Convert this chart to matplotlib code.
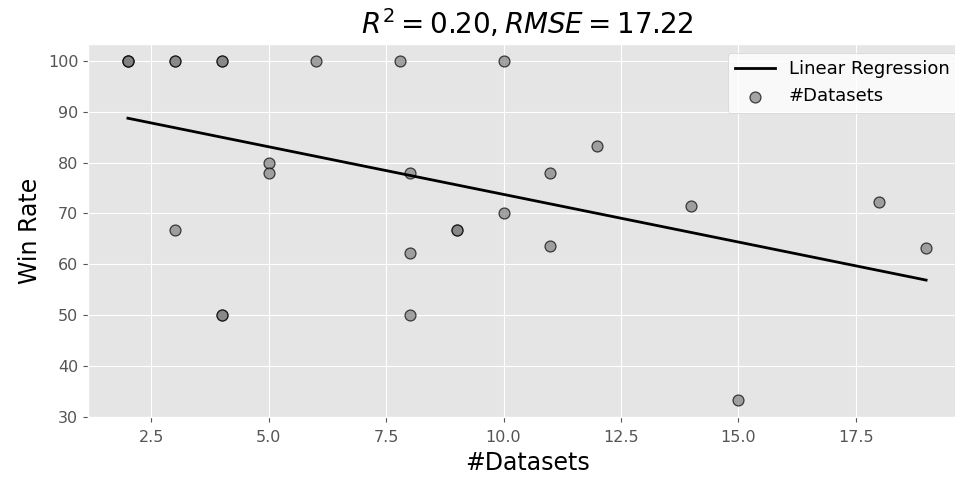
import numpy as np
import matplotlib
matplotlib.use("Agg")
import matplotlib.pyplot as plt

plt.style.use("ggplot")

n_datasets = [2, 2, 2, 3, 3, 4, 4, 6, 7.8, 10, 3, 4, 4, 5, 5, 8, 8, 8, 9, 9, 10, 11, 11, 12, 14, 15, 18, 19]
win_rate = [100, 100, 100, 100, 100, 100, 100, 100, 100, 100, 66.7, 50, 50, 80, 78, 78, 62.3, 50,
            66.7, 66.7, 70, 78, 63.6, 83.3, 71.4, 33.3, 72.2, 63.2]
title_text = r"$R^2 = 0.20, RMSE = 17.22$"

x = np.array(n_datasets, dtype=float)
y = np.array(win_rate, dtype=float)
slope, intercept = np.polyfit(x, y, 1)
xs = np.array([x.min(), x.max()])

fig = plt.figure(figsize=(9.55, 4.79), dpi=100)
ax = fig.add_axes([88 / 955, 1 - 417 / 479, (966 - 88) / 955, (417 - 44) / 479])
ax.plot(xs, slope * xs + intercept, color="black", lw=2, label="Linear Regression", zorder=3)
ax.scatter(x, y, s=62, color="gray", alpha=0.7, edgecolors="black", linewidths=0.9,
           label="#Datasets", zorder=2)
ax.set_title(title_text, fontsize=20, color="black", pad=7)
ax.set_xlabel("#Datasets", fontsize=17, color="black", labelpad=5)
ax.set_ylabel("Win Rate", fontsize=17, color="black")
ax.tick_params(labelsize=11.5)
ax.tick_params(axis="x", pad=5.5)
ax.legend(loc="upper right", fontsize=13, facecolor="white", framealpha=0.8,
          handlelength=2.2)
fig.savefig("out.png", dpi=100)
